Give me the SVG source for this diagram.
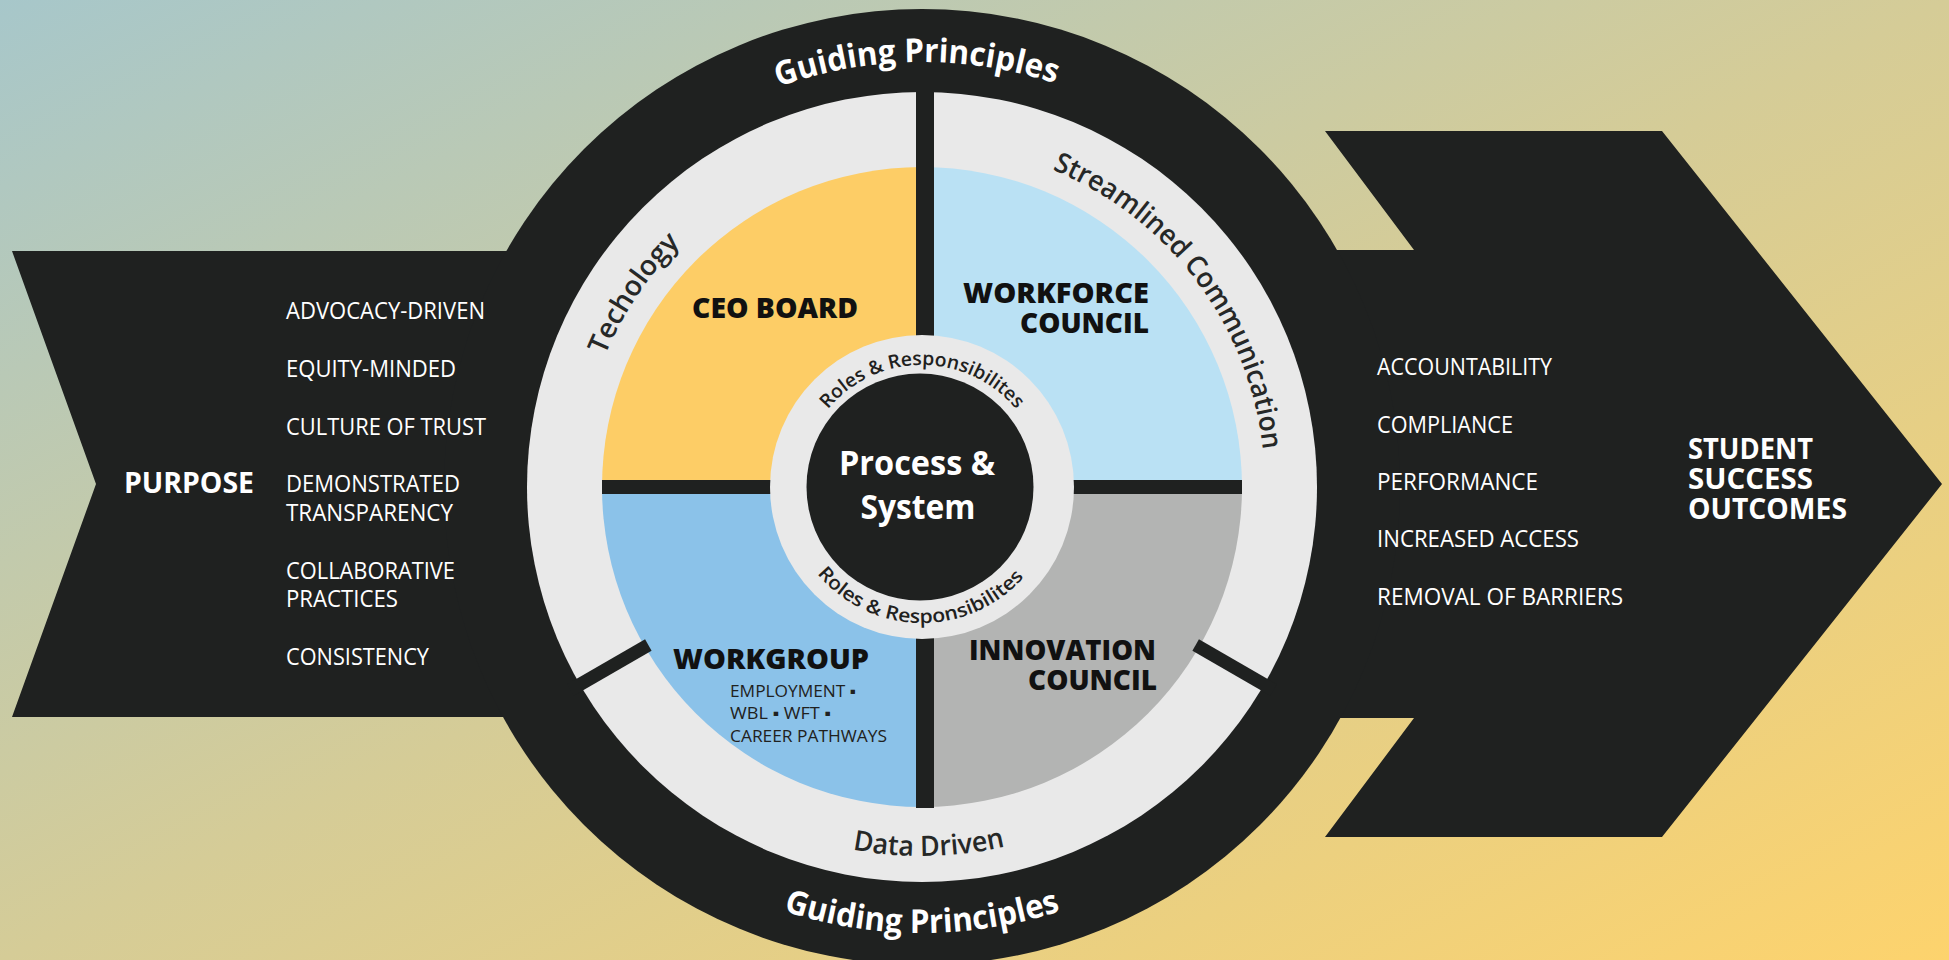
<svg xmlns="http://www.w3.org/2000/svg" width="1949" height="960" viewBox="0 0 1949 960">
<defs>
<linearGradient id="bg" x1="0" y1="0" x2="1" y2="1">
<stop offset="0" stop-color="#a7c7ca"/>
<stop offset="0.5" stop-color="#d5cc97"/>
<stop offset="1" stop-color="#fdd36d"/>
</linearGradient>
<path id="gpTop" d="M 497 487 A 425 425 0 0 1 1347 487"/>
<path id="gpBot" d="M 476 487 A 446 446 0 0 0 1368 487"/>
<path id="techPath" d="M 624.95 658.5 A 343 343 0 0 1 922 144"/>
<path id="streamPath" d="M 922 144 A 343 343 0 0 1 1219.05 658.5"/>
<path id="dataPath" d="M 553 487 A 369 369 0 0 0 1291 487"/>
<path id="rolesTop" d="M 800 487 A 122 122 0 0 1 1044 487"/>
<path id="rolesBot" d="M 786 487 A 136 136 0 0 0 1058 487"/>
<style>
.dark{fill:#1f2120}
.ring{fill:#e9e9e9}
.list{font-family:"Open Sans","Liberation Sans","DejaVu Sans",sans-serif;font-size:23px;fill:#ffffff}
.head{font-family:"Open Sans","Liberation Sans","DejaVu Sans",sans-serif;font-weight:700;fill:#ffffff}
.qlabel{font-family:"Open Sans","Liberation Sans","DejaVu Sans",sans-serif;font-weight:800;font-size:28px;fill:#111111}
.sub{font-family:"Open Sans","Liberation Sans","DejaVu Sans",sans-serif;font-size:17px;fill:#1f2120}
.arcw{font-family:"Open Sans","Liberation Sans","DejaVu Sans",sans-serif;font-weight:700;font-size:33px;fill:#ffffff}
.arcd{font-family:"Open Sans","Liberation Sans","DejaVu Sans",sans-serif;font-weight:600;font-size:28px;fill:#262827}
.roles{font-family:"Open Sans","Liberation Sans","DejaVu Sans",sans-serif;font-weight:600;font-size:19px;fill:#1f2120}
</style>
</defs>

<rect id="background" x="0" y="0" width="1949" height="960" fill="url(#bg)"/>

<g id="purpose-arrow">
<polygon class="dark" points="12,251 560,251 560,717 12,717 96,484"/>
</g>
<g id="outcomes-arrow">
<polygon class="dark" points="1325,131 1662,131 1942,484 1662,837 1325,837 1414,718 1300,718 1300,250 1414,250"/>
</g>

<g id="guiding-principles">
<circle class="dark" cx="922" cy="487" r="478"/>
<text class="arcw" text-anchor="middle"><textPath href="#gpTop" startOffset="49.6%" textLength="282" lengthAdjust="spacingAndGlyphs">Guiding Principles</textPath></text>
<text class="arcw" text-anchor="middle"><textPath href="#gpBot" startOffset="50%" textLength="282" lengthAdjust="spacingAndGlyphs">Guiding Principles</textPath></text>
</g>

<g id="principle-ring">
<circle class="ring" cx="922" cy="487" r="395"/>
<text class="arcd" text-anchor="middle"><textPath href="#techPath" startOffset="53.25%" textLength="136" lengthAdjust="spacingAndGlyphs">Techology</textPath></text>
<text class="arcd" text-anchor="middle"><textPath href="#streamPath" startOffset="44.2%" textLength="368" lengthAdjust="spacingAndGlyphs">Streamlined Communication</textPath></text>
<text class="arcd" text-anchor="middle"><textPath href="#dataPath" startOffset="50.6%" textLength="154" lengthAdjust="spacingAndGlyphs">Data Driven</textPath></text>
</g>

<g id="ceo-board">
<path d="M 922 487 L 602 487 A 320 320 0 0 1 922 167 Z" fill="#fdcd66"/>
<text class="qlabel" x="692" y="318" textLength="166" lengthAdjust="spacingAndGlyphs">CEO BOARD</text>
</g>
<g id="workforce-council">
<path d="M 922 487 L 922 167 A 320 320 0 0 1 1242 487 Z" fill="#bae1f4"/>
<text class="qlabel" x="963" y="303" textLength="186" lengthAdjust="spacingAndGlyphs">WORKFORCE</text>
<text class="qlabel" x="1020" y="333" textLength="129" lengthAdjust="spacingAndGlyphs">COUNCIL</text>
</g>
<g id="innovation-council">
<path d="M 922 487 L 1242 487 A 320 320 0 0 1 922 807 Z" fill="#b3b4b3"/>
<text class="qlabel" x="969" y="660" textLength="187" lengthAdjust="spacingAndGlyphs">INNOVATION</text>
<text class="qlabel" x="1028" y="690" textLength="129" lengthAdjust="spacingAndGlyphs">COUNCIL</text>
</g>
<g id="workgroup">
<path d="M 922 487 L 922 807 A 320 320 0 0 1 602 487 Z" fill="#8bc2e9"/>
<text class="qlabel" x="673" y="669" textLength="196" lengthAdjust="spacingAndGlyphs">WORKGROUP</text>
<text class="sub" x="730" y="697" textLength="126" lengthAdjust="spacingAndGlyphs">EMPLOYMENT ▪</text>
<text class="sub" x="730" y="719" textLength="101" lengthAdjust="spacingAndGlyphs">WBL ▪ WFT ▪</text>
<text class="sub" x="730" y="742" textLength="157" lengthAdjust="spacingAndGlyphs">CAREER PATHWAYS</text>
</g>

<g id="connectors">
<rect class="dark" x="916" y="80" width="18" height="728"/>
<rect class="dark" x="602" y="480" width="640" height="14"/>
<rect class="dark" x="316" y="-6.5" width="90" height="13" transform="translate(922,487) rotate(30)"/>
<rect class="dark" x="316" y="-6.5" width="90" height="13" transform="translate(922,487) rotate(150)"/>
</g>

<g id="process-system">
<circle class="ring" cx="922" cy="487" r="152"/>
<circle class="dark" cx="920" cy="487" r="113.5"/>
<text class="roles" text-anchor="middle"><textPath href="#rolesTop" startOffset="50%" textLength="215" lengthAdjust="spacingAndGlyphs">Roles &amp; Responsibilites</textPath></text>
<text class="roles" text-anchor="middle"><textPath href="#rolesBot" startOffset="49.5%" textLength="235" lengthAdjust="spacingAndGlyphs">Roles &amp; Responsibilites</textPath></text>
<text class="head" x="917" y="475" font-size="34" text-anchor="middle" textLength="156" lengthAdjust="spacingAndGlyphs">Process &amp;</text>
<text class="head" x="918" y="519" font-size="34" text-anchor="middle" textLength="115" lengthAdjust="spacingAndGlyphs">System</text>
</g>

<g id="purpose-text">
<text class="head" x="124" y="493" font-size="29" textLength="130" lengthAdjust="spacingAndGlyphs">PURPOSE</text>
<text class="list" x="286" y="319" textLength="199" lengthAdjust="spacingAndGlyphs">ADVOCACY-DRIVEN</text>
<text class="list" x="286" y="377" textLength="170" lengthAdjust="spacingAndGlyphs">EQUITY-MINDED</text>
<text class="list" x="286" y="435" textLength="200" lengthAdjust="spacingAndGlyphs">CULTURE OF TRUST</text>
<text class="list" x="286" y="492" textLength="174" lengthAdjust="spacingAndGlyphs">DEMONSTRATED</text>
<text class="list" x="286" y="521" textLength="167" lengthAdjust="spacingAndGlyphs">TRANSPARENCY</text>
<text class="list" x="286" y="579" textLength="169" lengthAdjust="spacingAndGlyphs">COLLABORATIVE</text>
<text class="list" x="286" y="607" textLength="112" lengthAdjust="spacingAndGlyphs">PRACTICES</text>
<text class="list" x="286" y="665" textLength="143" lengthAdjust="spacingAndGlyphs">CONSISTENCY</text>
</g>

<g id="outcomes-text">
<text class="list" x="1377" y="375" textLength="175" lengthAdjust="spacingAndGlyphs">ACCOUNTABILITY</text>
<text class="list" x="1377" y="433" textLength="136" lengthAdjust="spacingAndGlyphs">COMPLIANCE</text>
<text class="list" x="1377" y="490" textLength="161" lengthAdjust="spacingAndGlyphs">PERFORMANCE</text>
<text class="list" x="1377" y="547" textLength="202" lengthAdjust="spacingAndGlyphs">INCREASED ACCESS</text>
<text class="list" x="1377" y="605" textLength="246" lengthAdjust="spacingAndGlyphs">REMOVAL OF BARRIERS</text>
<text class="head" x="1688" y="459" font-size="28" textLength="125" lengthAdjust="spacingAndGlyphs">STUDENT</text>
<text class="head" x="1688" y="489" font-size="28" textLength="125" lengthAdjust="spacingAndGlyphs">SUCCESS</text>
<text class="head" x="1688" y="519" font-size="28" textLength="159" lengthAdjust="spacingAndGlyphs">OUTCOMES</text>
</g>
</svg>
